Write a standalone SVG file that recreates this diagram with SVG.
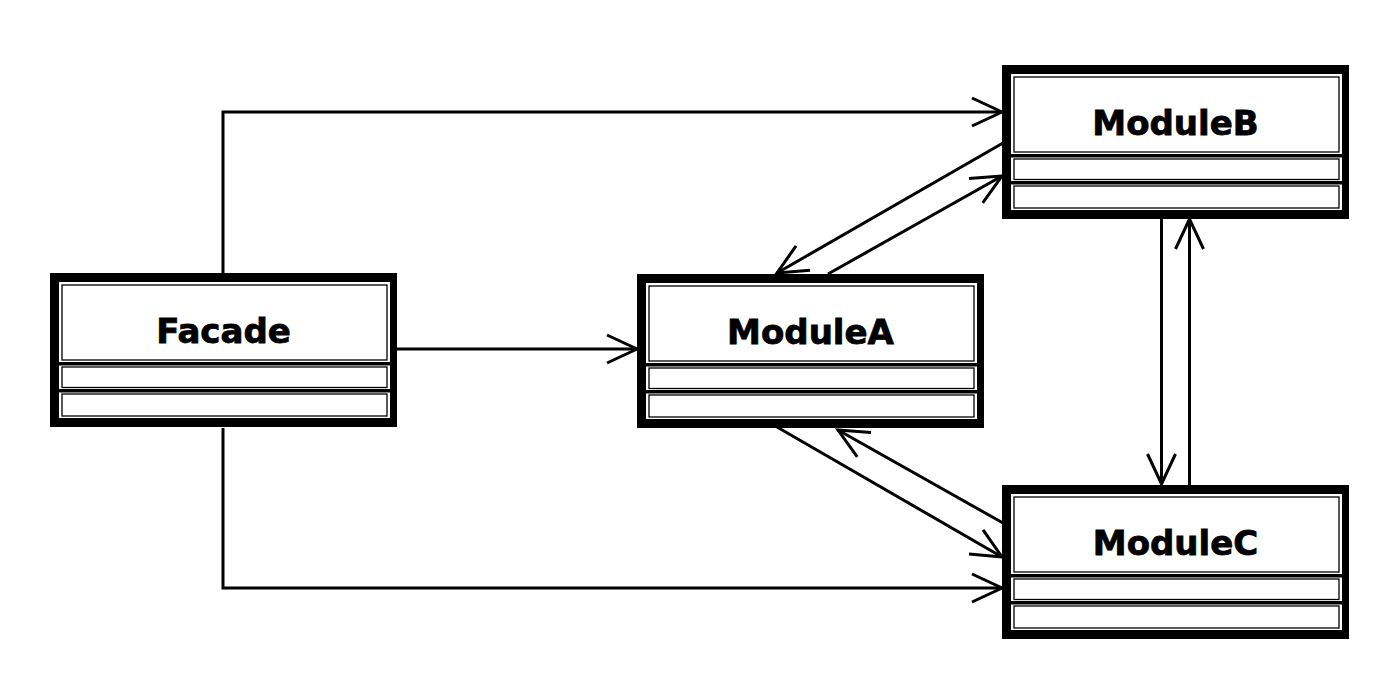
<svg xmlns="http://www.w3.org/2000/svg" width="1400" height="700" viewBox="0 0 1400 700">
  <defs>
    <style>
      .frame { fill: #000; }
      .gap { fill: #fff; }
      .inner { fill: none; stroke: #000; stroke-width: 1.3; }
      .label { font-family: "DejaVu Sans", "Liberation Sans", sans-serif; font-weight: bold; font-size: 34px; fill: #000; stroke: #000; stroke-width: 0.8; text-anchor: middle; }
      .conn { fill: none; stroke: #000; stroke-width: 3; }
    </style>
    <marker id="open" markerUnits="userSpaceOnUse" markerWidth="44" markerHeight="40" viewBox="-36 -20 44 40" refX="0" refY="0" orient="auto">
      <path d="M-30,-14 L0,0 L-30,14" fill="none" stroke="#000" stroke-width="3" stroke-linejoin="miter"/>
    </marker>
    <g id="box">
      <rect class="frame" x="0" y="0" width="347" height="154"/>
      <rect class="gap" x="9" y="9" width="331" height="80"/>
      <rect class="gap" x="9" y="92.5" width="331" height="23.5"/>
      <rect class="gap" x="9" y="119.5" width="331" height="25.5"/>
      <rect class="inner" x="12" y="12" width="325" height="75"/>
      <rect class="inner" x="12" y="94" width="325" height="20.5"/>
      <rect class="inner" x="12" y="121" width="325" height="22"/>
    </g>
  </defs>
  <rect width="1400" height="700" fill="#fff"/>

  <g id="connectors">
    <polyline class="conn" points="223,273 223,112 1002,112" marker-end="url(#open)"/>
    <polyline class="conn" points="223,428 223,588 1002,588" marker-end="url(#open)"/>
    <line class="conn" x1="397" y1="349" x2="637" y2="349" marker-end="url(#open)"/>
    <line class="conn" x1="828" y1="274" x2="1002" y2="176" marker-end="url(#open)"/>
    <line class="conn" x1="1003" y1="143" x2="777" y2="273" marker-end="url(#open)"/>
    <line class="conn" x1="777" y1="427" x2="1002" y2="557" marker-end="url(#open)"/>
    <line class="conn" x1="1003" y1="523" x2="838" y2="430" marker-end="url(#open)"/>
    <line class="conn" x1="1161.5" y1="219" x2="1161.5" y2="484" marker-end="url(#open)"/>
    <line class="conn" x1="1189.5" y1="485" x2="1189.5" y2="219" marker-end="url(#open)"/>
  </g>

  <g id="facade">
    <use href="#box" x="50" y="273"/>
    <text class="label" x="223.5" y="343">Facade</text>
  </g>
  <g id="moduleA">
    <use href="#box" x="637" y="274"/>
    <text class="label" x="810.5" y="344">ModuleA</text>
  </g>
  <g id="moduleB">
    <use href="#box" x="1002" y="65"/>
    <text class="label" x="1175.5" y="135">ModuleB</text>
  </g>
  <g id="moduleC">
    <use href="#box" x="1002" y="485"/>
    <text class="label" x="1175.5" y="555">ModuleC</text>
  </g>
</svg>
